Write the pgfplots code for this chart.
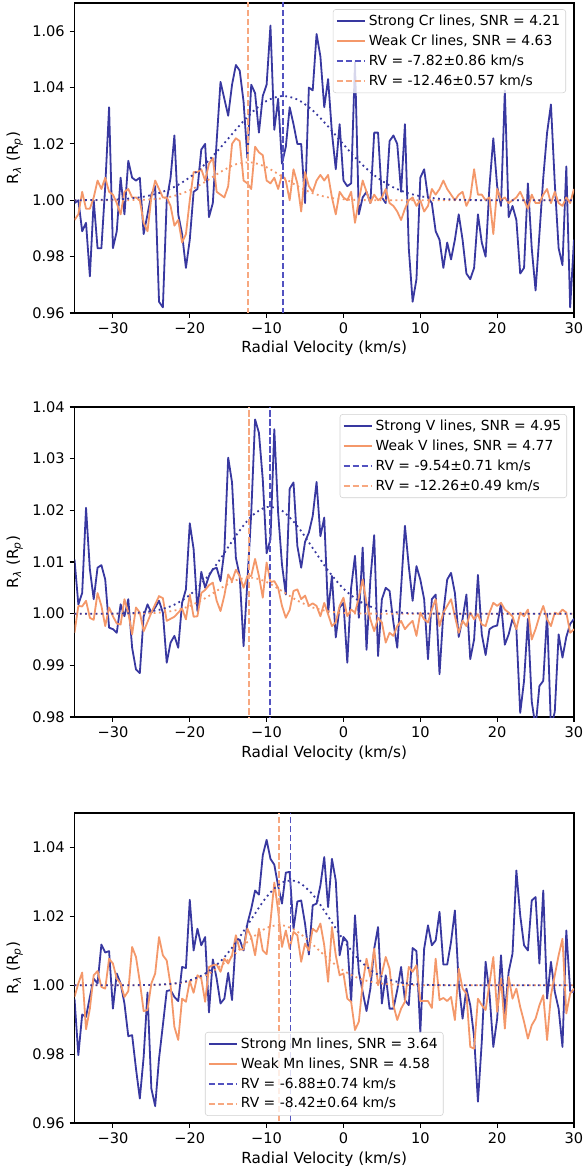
\documentclass[border=0pt]{standalone}
\usepackage{fontspec}
\setmainfont{DejaVu Sans}
\usepackage{pgfplots}
\usepackage{pgfplotstable}
\pgfplotsset{compat=1.18}
\definecolor{cstrong}{HTML}{3838A0}
\definecolor{cweak}{HTML}{F4986A}
\definecolor{cstrongd}{HTML}{5252C0}
\definecolor{cweakd}{HTML}{F7A880}

\pgfplotstableread{
x s w
-35 0.999 0.993
-34.5 1.000 0.995
-34 0.989 1.003
-33.5 0.992 0.997
-33 0.973 0.997
-32.5 1.000 1.001
-32 0.983 1.007
-31.5 0.983 1.004
-31 1.005 1.008
-30.5 1.033 1.003
-30 0.983 1.002
-29.5 0.989 0.999
-29 1.008 0.995
-28.5 0.995 1.003
-28 1.014 1.004
-27.5 1.008 1.001
-27 1.007 1.001
-26.5 1.008 1.000
-26 0.988 0.992
-25.5 0.995 0.989
-25 1.002 1.001
-24.5 1.005 1.007
-24 0.964 1.004
-23.5 0.962 1.001
-23 1.000 1.001
-22.5 1.008 0.998
-22 1.023 0.991
-21.5 0.995 0.993
-21 0.988 0.985
-20.5 0.976 0.988
-20 0.986 1.000
-19.5 1.003 1.010
-19 1.004 1.010
-18.5 1.018 1.011
-18 1.020 1.007
-17.5 0.994 1.013
-17 0.999 1.015
-16.5 1.021 1.003
-16 1.042 1.002
-15.5 1.036 1.001
-15 1.030 1.005
-14.5 1.041 1.020
-14 1.048 1.022
-13.5 1.046 1.021
-13 1.035 1.007
-12.5 1.015 1.006
-12 1.041 1.004
-11.5 1.038 1.019
-11 1.024 1.017
-10.5 1.037 1.016
-10 1.041 1.007
-9.5 1.062 1.006
-9 1.025 1.008
-8.5 1.036 1.004
-8 1.013 1.009
-7.5 1.019 1.007
-7 1.033 1.000
-6.5 1.027 1.011
-6 1.020 1.006
-5.5 1.020 0.996
-5 0.999 1.010
-4.5 1.040 1.005
-4 1.039 1.003
-3.5 1.059 1.007
-3 1.051 1.009
-2.5 1.033 1.007
-2 1.043 1.009
-1.5 1.024 1.001
-1 1.011 0.995
-0.5 1.027 1.003
0 1.007 1.001
0.5 1.005 1.000
1 1.006 1.003
1.5 1.049 0.992
2 0.995 1.000
2.5 1.001 1.007
3 1.003 1.003
3.5 0.999 0.999
4 1.024 1.002
4.5 1.024 1.000
5 1.001 1.001
5.5 0.999 1.004
6 1.021 0.999
6.5 1.023 0.998
7 1.020 0.996
7.5 1.003 0.993
8 1.027 0.997
8.5 0.983 1.000
9 0.964 1.001
9.5 0.972 0.998
10 1.008 1.000
10.5 1.011 0.996
11 1.001 0.998
11.5 0.999 1.004
12 0.989 1.002
12.5 0.986 1.004
13 0.976 1.007
13.5 0.985 1.004
14 0.979 1.002
14.5 0.986 1.000
15 0.995 1.002
15.5 0.986 1.003
16 0.974 0.998
16.5 0.972 1.001
17 0.976 1.011
17.5 0.995 1.002
18 0.985 1.002
18.5 0.980 1.000
19 1.005 1.001
19.5 1.022 0.988
20 1.005 1.004
20.5 0.998 1.000
21 1.039 1.001
21.5 0.994 0.999
22 0.998 1.000
22.5 0.993 1.001
23 0.974 1.003
23.5 0.976 1.000
24 1.006 0.997
24.5 0.983 1.002
25 0.968 0.999
25.5 0.988 0.999
26 1.008 1.002
26.5 1.024 1.004
27 1.034 0.999
27.5 1.006 1.003
28 0.983 0.999
28.5 0.977 0.998
29 1.012 1.001
29.5 0.962 0.999
30 0.986 1.004
}\tabCr

\pgfplotstableread{
x s w
-35 1.0105 0.9963
-34.5 1.0018 1.0015
-34 1.0040 1.0014
-33.5 1.0205 1.0025
-33 1.0086 0.9992
-32.5 1.0028 0.9988
-32 1.0089 1.0040
-31.5 1.0094 1.0015
-31 1.0066 0.9976
-30.5 0.9973 1.0012
-30 0.9970 0.9995
-29.5 0.9963 0.9981
-29 1.0018 0.9979
-28.5 0.9995 1.0028
-28 1.0028 1.0002
-27.5 0.9934 0.9960
-27 0.9892 1.0012
-26.5 0.9885 1.0002
-26 0.9995 0.9966
-25.5 1.0018 0.9984
-25 1.0002 1.0002
-24.5 1.0012 1.0018
-24 1.0025 1.0034
-23.5 1.0002 1.0030
-23 0.9905 0.9986
-22.5 0.9944 0.9990
-22 0.9957 0.9994
-21.5 0.9934 1.0002
-21 1.0021 1.0010
-20.5 1.0047 0.9989
-20 1.0175 1.0037
-19.5 1.0125 0.9994
-19 1.0005 0.9995
-18.5 1.0081 1.0040
-18 1.0050 1.0046
-17.5 1.0073 1.0055
-17 1.0086 1.0060
-16.5 1.0089 1.0025
-16 1.0063 1.0005
-15.5 1.0121 1.0035
-15 1.0302 1.0076
-14.5 1.0254 1.0063
-14 1.0108 1.0085
-13.5 1.0073 1.0073
-13 0.9937 1.0050
-12.5 1.0063 1.0073
-12 1.0195 1.0073
-11.5 1.0376 1.0106
-11 1.0350 1.0073
-10.5 1.0260 1.0031
-10 1.0117 1.0099
-9.5 1.0144 1.0061
-9 1.0357 1.0063
-8.5 1.0195 1.0050
-8 1.0095 1.0015
-7.5 1.0037 0.9992
-7 1.0242 1.0007
-6.5 1.0254 1.0044
-6 1.0131 1.0047
-5.5 1.0089 1.0028
-5 1.0139 1.0035
-4.5 1.0157 1.0015
-4 1.0189 1.0020
-3.5 1.0255 1.0015
-3 1.0150 0.9995
-2.5 1.0186 1.0021
-2 1.0002 0.9999
-1.5 1.0073 0.9976
-1 0.9954 0.9983
-0.5 1.0012 1.0015
0 1.0021 1.0031
0.5 0.9905 0.9995
1 1.0050 1.0008
1.5 1.0112 1.0002
2 0.9992 1.0031
2.5 1.0128 1.0066
3 0.9930 1.0021
3.5 1.0066 0.9989
4 1.0152 0.9966
4.5 0.9918 0.9992
5 1.0028 0.9983
5.5 1.0050 0.9944
6 1.0044 0.9963
6.5 0.9983 0.9957
7 0.9934 0.9976
7.5 1.0050 0.9986
8 1.0170 0.9970
8.5 1.0092 0.9979
9 1.0025 0.9986
9.5 1.0092 0.9957
10 1.0066 1.0002
10.5 1.0028 0.9989
11 0.9912 0.9983
11.5 1.0028 1.0008
12 1.0037 1.0028
12.5 0.9883 0.9976
13 1.0002 1.0002
13.5 1.0066 1.0015
14 1.0079 1.0028
14.5 1.0040 0.9995
15 0.9955 0.9963
15.5 0.9990 0.9986
16 1.0037 0.9976
16.5 0.9912 1.0002
17 0.9950 0.9989
17.5 1.0075 0.9999
18 0.9960 0.9979
18.5 0.9920 0.9976
19 0.9970 1.0002
19.5 0.9975 1.0021
20 0.9977 1.0015
20.5 1.0020 1.0021
21 0.9940 1.0008
21.5 0.9960 1.0002
22 0.9990 0.9995
22.5 0.9970 0.9970
23 0.9808 1.0002
23.5 0.9870 0.9995
24 0.9990 1.0008
24.5 0.9830 0.9950
25 0.9780 0.9970
25.5 0.9860 0.9995
26 0.9870 1.0015
26.5 1.0000 0.9989
27 0.9780 0.9976
27.5 0.9810 1.0002
28 0.9960 0.9999
28.5 0.9915 1.0008
29 0.9955 1.0002
29.5 0.9980 0.9963
30 0.9990 0.9970
}\tabV

\pgfplotstableread{
x s w
-35 0.9961 0.9966
-34.5 0.9797 1.0005
-34 0.9915 1.0037
-33.5 0.9908 0.9872
-33 0.9966 0.9932
-32.5 1.0019 1.0029
-32 1.0005 1.0041
-31.5 1.0118 0.9995
-31 1.0095 0.9990
-30.5 1.0099 1.0077
-30 0.9932 1.0063
-29.5 1.0034 1.0019
-29 1.0005 1.0005
-28.5 0.9947 0.9966
-28 0.9852 0.9983
-27.5 0.9855 1.0111
-27 0.9758 1.0082
-26.5 0.9671 1.0010
-26 0.9792 0.9925
-25.5 0.9979 0.9928
-25 0.9700 1.0005
-24.5 0.9649 1.0034
-24 0.9787 1.0140
-23.5 0.9884 1.0087
-23 0.9983 1.0072
-22.5 0.9986 1.0000
-22 0.9966 0.9879
-21.5 0.9954 0.9841
-21 1.0053 0.9961
-20.5 1.0050 0.9952
-20 1.0248 1.0012
-19.5 1.0101 0.9978
-19 1.0164 1.0029
-18.5 1.0116 1.0019
-18 1.0140 0.9952
-17.5 0.9921 1.0053
-17 1.0075 1.0058
-16.5 1.0019 1.0060
-16 0.9947 1.0039
-15.5 0.9961 1.0077
-15 1.0036 1.0063
-14.5 0.9957 1.0087
-14 1.0135 1.0145
-13.5 1.0132 1.0104
-13 1.0101 1.0104
-12.5 1.0179 1.0164
-12 1.0222 1.0140
-11.5 1.0275 1.0087
-11 1.0263 1.0164
-10.5 1.0377 1.0101
-10 1.0422 1.0090
-9.5 1.0367 1.0184
-9 1.0350 1.0298
-8.5 1.0288 1.0217
-8 1.0237 1.0111
-7.5 1.0327 1.0159
-7 1.0329 1.0106
-6.5 1.0164 1.0155
-6 1.0243 1.0145
-5.5 1.0246 1.0068
-5 1.0179 1.0121
-4.5 1.0089 1.0101
-4 1.0232 1.0164
-3.5 1.0237 1.0155
-3 1.0290 1.0179
-2.5 1.0372 1.0116
-2 1.0227 1.0010
-1.5 1.0367 1.0169
-1 1.0304 1.0087
-0.5 1.0087 1.0029
0 1.0140 1.0034
0.5 1.0126 0.9961
1 0.9952 0.9952
1.5 1.0203 0.9870
2 1.0039 0.9894
2.5 0.9981 1.0005
3 0.9925 1.0077
3.5 0.9990 1.0024
4 1.0106 1.0106
4.5 1.0169 1.0000
5 0.9947 1.0034
5.5 1.0029 1.0082
6 0.9932 1.0048
6.5 0.9932 0.9942
7 0.9986 0.9899
7.5 1.0053 0.9932
8 0.9957 0.9952
8.5 0.9942 1.0053
9 1.0108 1.0039
9.5 1.0099 1.0058
10 0.9863 0.9954
10.5 1.0106 0.9954
11 1.0174 0.9954
11.5 1.0116 0.9934
12 1.0130 1.0077
12.5 1.0213 0.9957
13 1.0060 0.9963
13.5 1.0060 0.9954
14 1.0126 0.9966
14.5 1.0217 0.9899
15 1.0005 1.0048
15.5 0.9903 0.9990
16 0.9990 0.9976
16.5 0.9942 0.9821
17 0.9850 0.9816
17.5 0.9662 0.9961
18 0.9836 0.9942
18.5 1.0068 0.9928
19 0.9976 1.0005
19.5 0.9821 1.0082
20 0.9903 0.9923
20.5 1.0087 1.0019
21 0.9918 0.9874
21.5 1.0039 1.0024
22 1.0092 0.9961
22.5 1.0333 0.9990
23 1.0203 0.9937
23.5 1.0116 0.9894
24 1.0101 0.9845
24.5 1.0246 0.9884
25 1.0256 0.9903
25.5 1.0063 0.9942
26 1.0275 0.9971
26.5 0.9961 0.9841
27 1.0068 0.9971
27.5 0.9981 1.0029
28 0.9932 1.0087
28.5 0.9821 1.0135
29 1.0159 0.9918
29.5 0.9983 0.9976
30 0.9980 0.9990
}\tabMn

\pgfplotsset{
  rvaxis/.style={
    scale only axis, width=359.64pt, height=223.2pt,
    anchor=north west,
    xmin=-35, xmax=30,
    xtick={-30,-20,-10,0,10,20,30},
    xticklabels={−30,−20,−10,0,10,20,30},
    tick align=outside, tick pos=left,
    major tick length=3.5pt,
    every tick/.style={black, line width=0.8pt},
    axis line style={line width=0.8pt},
    tick label style={font=\fontsize{10.5}{12}\selectfont},
    label style={font=\fontsize{11}{13}\selectfont},
    /pgf/number format/assume math mode=true,
    yticklabel style={/pgf/number format/fixed, /pgf/number format/fixed zerofill, /pgf/number format/precision=2},
    xlabel={Radial Velocity (km/s)},
    xlabel style={at={(axis description cs:0.5,0)}, anchor=base, yshift=-28.8pt},
    ylabel={R\textsubscript{\itshape λ} (R\textsubscript{\itshape p})},
    legend cell align=left,
    legend style={font=\fontsize{10}{12}\selectfont, draw=black!18, rounded corners=2pt, fill=white, fill opacity=0.8, text opacity=1, inner xsep=2pt, inner ysep=2pt, row sep=1.2pt, nodes={inner sep=2pt}},
    legend image code/.code={\draw[##1] (0pt,0pt) -- (20.4pt,0pt);},
  },
  sline/.style={cstrong, line width=1.3pt, line join=round},
  wline/.style={cweak, line width=1.3pt, line join=round},
  sdash/.style={cstrongd, line width=1.3pt, dash pattern=on 4.5pt off 2pt},
  wdash/.style={cweakd, line width=1.3pt, dash pattern=on 4.5pt off 2pt},
  sfit/.style={cstrong, line width=1.3pt, dash pattern=on 1.3pt off 2.5pt, smooth, forget plot},
  wfit/.style={cweak, line width=1.3pt, dash pattern=on 1.3pt off 2.5pt, smooth, forget plot},
}

\begin{document}
\begin{tikzpicture}
\useasboundingbox (0pt,0pt) rectangle (420.48pt,-839.52pt);

% ---------- Cr ----------
\begin{axis}[rvaxis, at={(53.64pt,-2.16pt)},
  ymin=0.96, ymax=1.07, ytick={0.96,0.98,1.00,1.02,1.04,1.06},
  legend style={at={(0.984,0.98)}, anchor=north east}]
\addplot[sline] table[x=x,y=s] {\tabCr};
\addlegendentry{Strong Cr lines, SNR = 4.21}
\addplot[wline] table[x=x,y=w] {\tabCr};
\addlegendentry{Weak Cr lines, SNR = 4.63}
\addplot[sdash] coordinates {(-7.82,0.95) (-7.82,1.08)};
\addlegendentry{RV = -7.82±0.86 km/s}
\addplot[wdash] coordinates {(-12.46,0.95) (-12.46,1.08)};
\addlegendentry{RV = -12.46±0.57 km/s}
\addplot[wfit] coordinates {(-35,1.0) (-30,1.0) (-28,1.00004) (-26,1.00018) (-24,1.00058) (-22,1.00157) (-20,1.00352) (-18,1.00654) (-16,1.01004) (-14,1.01276) (-12,1.01343) (-10,1.0117) (-8,1.00844) (-6,1.00504) (-4,1.00249) (-2,1.00102) (0,1.00034) (2,1.0001) (4,1.00002) (8,1.0) (30,1.0)};
\addplot[sfit] coordinates {(-35,1.0) (-30,1.00024) (-28,1.00058) (-26,1.00127) (-24,1.00256) (-22,1.00475) (-20,1.00814) (-18,1.01286) (-16,1.01869) (-14,1.02505) (-12,1.03096) (-10,1.03526) (-8,1.0370) (-6,1.03577) (-4,1.03188) (-2,1.02619) (0,1.01983) (2,1.01383) (4,1.00889) (6,1.00527) (8,1.00288) (10,1.00145) (12,1.00067) (14,1.00029) (16,1.00011) (20,1.0) (30,1.0)};
\end{axis}

% ---------- V ----------
\begin{axis}[rvaxis, at={(53.64pt,-293.04pt)},
  ymin=0.98, ymax=1.04, ytick={0.98,0.99,1.00,1.01,1.02,1.03,1.04},
  legend style={at={(0.986,0.977)}, anchor=north east}]
\addplot[sline] table[x=x,y=s] {\tabV};
\addlegendentry{Strong V lines, SNR = 4.95}
\addplot[wline] table[x=x,y=w] {\tabV};
\addlegendentry{Weak V lines, SNR = 4.77}
\addplot[sdash] coordinates {(-9.54,0.97) (-9.54,1.05)};
\addlegendentry{RV = -9.54±0.71 km/s}
\addplot[wdash] coordinates {(-12.26,0.97) (-12.26,1.05)};
\addlegendentry{RV = -12.26±0.49 km/s}
\addplot[wfit] coordinates {(-35,1.0) (-28,1.0) (-26,1.00005) (-24,1.0002) (-22,1.0006) (-20,1.00149) (-18,1.00299) (-16,1.00488) (-14,1.00647) (-12,1.00699) (-10,1.00613) (-8,1.00438) (-6,1.00254) (-4,1.0012) (-2,1.00046) (0,1.00014) (2,1.00004) (6,1.0) (30,1.0)};
\addplot[sfit] coordinates {(-35,1.0) (-30,1.00001) (-28,1.00009) (-26,1.00028) (-24,1.00074) (-22,1.00174) (-20,1.00362) (-18,1.00661) (-16,1.01064) (-14,1.01508) (-12,1.0188) (-10,1.02063) (-8,1.01993) (-6,1.01695) (-4,1.01269) (-2,1.00836) (0,1.00485) (2,1.00248) (4,1.00111) (6,1.00044) (8,1.00015) (10,1.00005) (14,1.0) (30,1.0)};
\end{axis}

% ---------- Mn ----------
\begin{axis}[rvaxis, at={(53.64pt,-585.36pt)},
  ymin=0.96, ymax=1.05, ytick={0.96,0.98,1.00,1.02,1.04},
  legend style={at={(0.5,0.023)}, anchor=south}]
\addplot[sline] table[x=x,y=s] {\tabMn};
\addlegendentry{Strong Mn lines, SNR = 3.64}
\addplot[wline] table[x=x,y=w] {\tabMn};
\addlegendentry{Weak Mn lines, SNR = 4.58}
\addplot[sdash] coordinates {(-6.88,0.95) (-6.88,1.06)};
\addlegendentry{RV = -6.88±0.74 km/s}
\addplot[wdash] coordinates {(-8.42,0.95) (-8.42,1.06)};
\addlegendentry{RV = -8.42±0.64 km/s}
\addplot[wfit] coordinates {(-35,1.0) (-28,1.00001) (-26,1.00004) (-24,1.00014) (-22,1.00044) (-20,1.0012) (-18,1.00279) (-16,1.00555) (-14,1.00939) (-12,1.01355) (-10,1.01665) (-8,1.01744) (-6,1.01556) (-4,1.01184) (-2,1.00768) (0,1.00424) (2,1.002) (4,1.0008) (6,1.00027) (8,1.00008) (12,1.0) (30,1.0)};
\addplot[sfit] coordinates {(-35,1.0) (-28,1.00001) (-26,1.00005) (-24,1.00017) (-22,1.00052) (-20,1.00142) (-18,1.00338) (-16,1.00694) (-14,1.01237) (-12,1.01912) (-10,1.02565) (-8,1.02983) (-6,1.03008) (-4,1.02632) (-2,1.01996) (0,1.01314) (2,1.00749) (4,1.00371) (6,1.00159) (8,1.00059) (10,1.00019) (12,1.00005) (16,1.0) (30,1.0)};
\end{axis}
\end{tikzpicture}
\end{document}
